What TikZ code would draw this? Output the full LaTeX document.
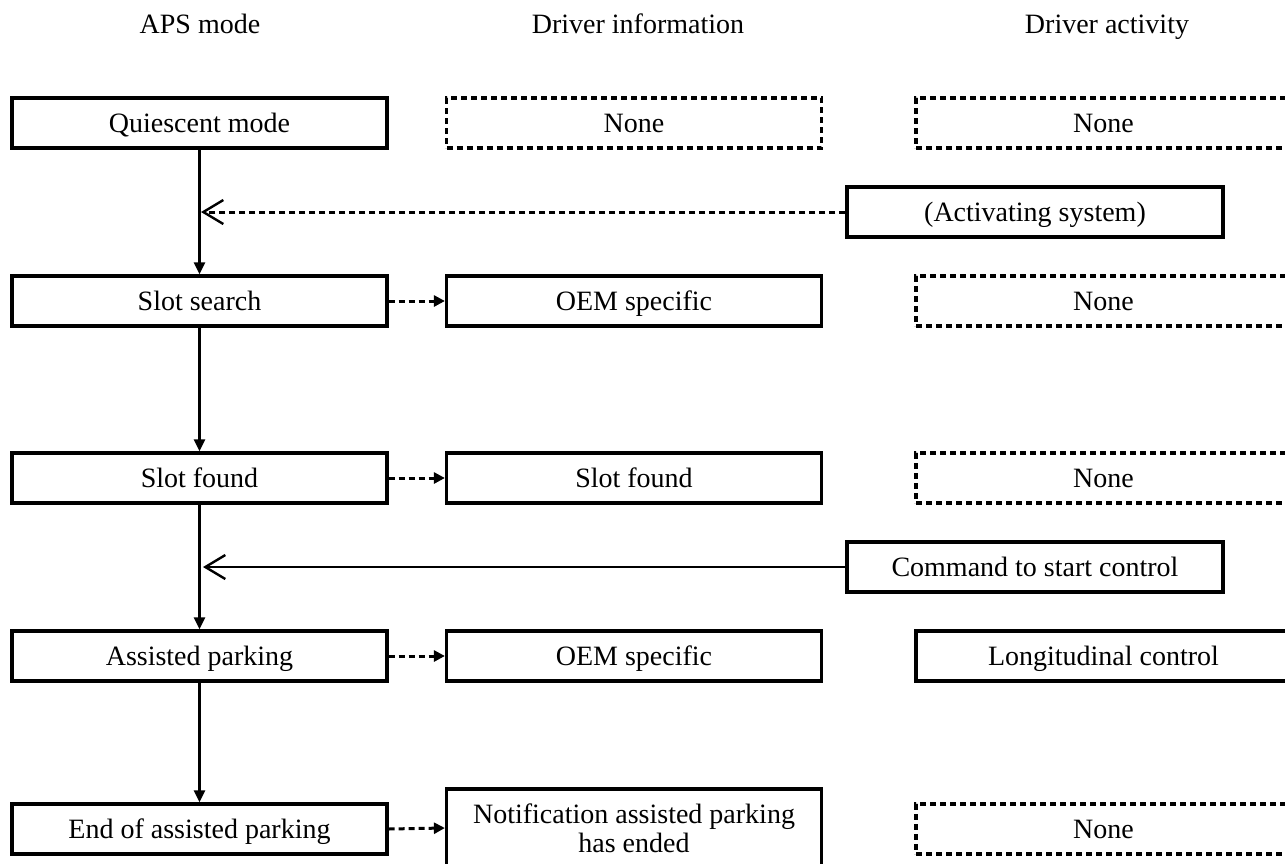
\documentclass[tikz,border=0pt]{standalone}
\usepackage{fontspec}
\setmainfont{Liberation Serif}
\usetikzlibrary{arrows.meta}
\tikzset{
  txt/.style={font=\fontsize{28}{30}\selectfont, text height=19pt, text depth=0pt},
  box/.style={txt, draw, line width=3.2pt, minimum width=375pt, minimum height=50pt, inner sep=0pt, align=center},
  dbox/.style={box, dash pattern=on 6pt off 4pt},
  hdr/.style={txt, inner sep=0pt},
  flow/.style={line width=2.4pt, -{Triangle[length=12pt,width=11pt]}},
  info/.style={line width=3pt, dash pattern=on 6pt off 4pt, -{Triangle[length=11pt,width=11pt]}},
  trig/.style={line width=2.4pt, -{Straight Barb[length=20pt,width=24pt,line width=2.4pt]}},
  dtrig/.style={trig, line width=3pt, dash pattern=on 6pt off 4pt}
}
\begin{document}
\begin{tikzpicture}[x=1pt,y=-1pt]
\useasboundingbox (0,0) rectangle (1285,863);
\clip (0,0) rectangle (1285,863);
% headers
\node[hdr] (h1) at (200,24) {APS mode};
\node[hdr] (h2) at (638,24) {Driver information};
\node[hdr] (h3) at (1107,24) {Driver activity};
% column 1
\node[box] (q)  at (199.5,123) {Quiescent mode};
\node[box] (ss) at (199.5,301) {Slot search};
\node[box] (sf) at (199.5,478) {Slot found};
\node[box] (ap) at (199.5,656) {Assisted parking};
\node[box] (ea) at (199.5,829) {End of assisted parking};
% column 2
\node[dbox] (i1) at (634,123) {None};
\node[box] (i2) at (634,301) {OEM specific};
\node[box] (i3) at (634,478) {Slot found};
\node[box] (i4) at (634,656) {OEM specific};
\node[box, minimum height=78pt, text height=48pt, font=\fontsize{28}{29}\selectfont] (i5) at (634,828) {Notification assisted parking\\has ended};
% column 3
\node[dbox] (a1) at (1103.5,123) {None};
\node[box, minimum width=376pt] (act) at (1035,212) {(Activating system)};
\node[dbox] (a2) at (1103.5,301) {None};
\node[dbox] (a3) at (1103.5,478) {None};
\node[box, minimum width=376pt] (cmd) at (1035,567) {Command to start control};
\node[box] (a4) at (1103.5,656) {Longitudinal control};
\node[dbox] (a5) at (1103.5,829) {None};
% flow
\coordinate (j1) at (201,212);
\coordinate (j2) at (203,567);
\draw[flow] (q.south) -- (ss.north);
\draw[flow] (ss.south) -- (sf.north);
\draw[flow] (sf.south) -- (ap.north);
\draw[flow] (ap.south) -- (ea.north);
\draw[dtrig] (act.west) -- (j1);
\draw[trig] (cmd.west) -- (j2);
\draw[info] (ss.east) -- (i2.west);
\draw[info] (sf.east) -- (i3.west);
\draw[info] (ap.east) -- (i4.west);
\draw[info] (ea.east) -- (i5.west);
\end{tikzpicture}
\end{document}
